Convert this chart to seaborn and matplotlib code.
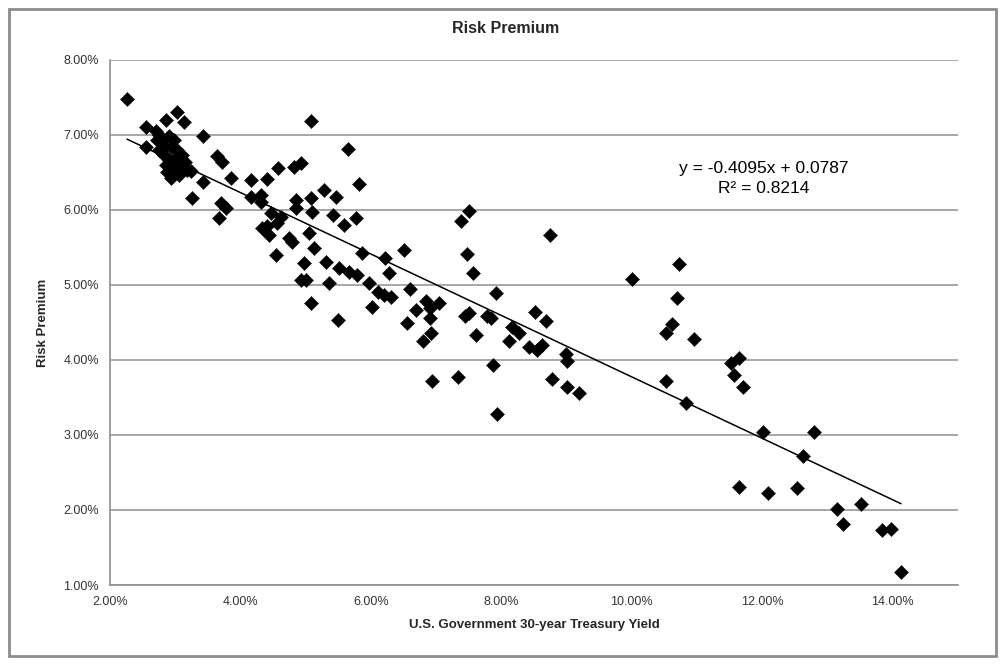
"""Risk premium vs 30-year Treasury yield, Excel-style scatter with linear trend."""

import matplotlib
matplotlib.use("Agg")
import matplotlib.pyplot as plt
from matplotlib.ticker import FuncFormatter, MultipleLocator
from matplotlib.patches import Rectangle
import numpy as np
import pandas as pd
import seaborn as sns

# Data (percent)
treasury_yield = [
    2.26, 2.55, 2.86, 3.03, 3.13, 2.71, 2.75, 2.90, 3.43, 2.55,
    2.80, 2.94, 2.83, 2.90, 3.01, 3.10, 2.86, 2.98, 3.09, 2.94,
    3.06, 3.24, 3.43, 3.26, 3.64, 3.72, 3.86, 4.16, 4.41, 4.58,
    4.82, 4.93, 5.08, 5.65, 5.82, 3.70, 3.78, 3.67, 4.16, 4.32,
    4.32, 4.85, 4.85, 5.08, 5.28, 5.47, 5.10, 5.42, 4.47, 4.62,
    4.56, 4.41, 4.33, 4.44, 4.75, 4.79, 5.05, 5.13, 4.55, 4.98,
    5.31, 5.51, 5.67, 4.93, 5.01, 5.36, 5.08, 5.50, 5.59, 5.77,
    5.87, 6.22, 6.28, 5.79, 5.97, 6.11, 6.20, 6.31, 6.02, 6.51,
    6.60, 6.69, 6.85, 7.05, 6.91, 6.56, 6.91, 6.92, 6.80, 7.51,
    7.38, 7.48, 7.57, 8.75, 7.92, 7.44, 7.51, 7.78, 7.84, 7.61,
    8.17, 8.12, 8.27, 8.52, 8.69, 8.43, 8.55, 8.63, 8.99, 9.01,
    7.87, 6.94, 7.34, 8.78, 9.01, 9.19, 7.94, 10.01, 10.73, 10.70,
    10.62, 10.53, 10.96, 10.53, 10.83, 11.52, 11.65, 11.57, 11.71, 12.02,
    12.80, 12.63, 11.65, 12.09, 12.54, 13.15, 13.24, 13.52, 13.84, 13.98,
    14.13, 2.72, 2.83, 3.03, 3.15, 2.75, 2.98, 3.18, 2.87,
]
risk_premium = [
    7.48, 7.11, 7.20, 7.31, 7.17, 7.05, 7.00, 6.99, 6.99, 6.84,
    6.92, 6.84, 6.73, 6.67, 6.71, 6.73, 6.60, 6.56, 6.57, 6.43,
    6.47, 6.52, 6.37, 6.16, 6.72, 6.64, 6.43, 6.40, 6.41, 6.56,
    6.57, 6.63, 7.19, 6.81, 6.35, 6.09, 6.03, 5.89, 6.17, 6.20,
    6.11, 6.13, 6.03, 6.16, 6.27, 6.17, 5.97, 5.93, 5.96, 5.91,
    5.83, 5.79, 5.76, 5.67, 5.63, 5.57, 5.69, 5.49, 5.40, 5.29,
    5.31, 5.23, 5.17, 5.07, 5.07, 5.03, 4.76, 4.53, 5.80, 5.89,
    5.43, 5.36, 5.16, 5.13, 5.03, 4.91, 4.87, 4.84, 4.71, 5.47,
    4.95, 4.67, 4.79, 4.76, 4.69, 4.49, 4.56, 4.36, 4.25, 5.99,
    5.85, 5.41, 5.16, 5.67, 4.89, 4.59, 4.63, 4.59, 4.56, 4.33,
    4.44, 4.25, 4.36, 4.64, 4.52, 4.17, 4.13, 4.20, 4.08, 3.99,
    3.93, 3.72, 3.77, 3.75, 3.64, 3.56, 3.28, 5.08, 5.28, 4.83,
    4.48, 4.36, 4.28, 3.72, 3.43, 3.96, 4.03, 3.80, 3.64, 3.04,
    3.04, 2.72, 2.31, 2.23, 2.29, 2.01, 1.81, 2.08, 1.73, 1.75,
    1.17, 6.93, 6.84, 6.80, 6.64, 6.80, 6.93, 6.53, 6.51,
]

# Excel trendline: y = -0.4095x + 0.0787 (fractions), R^2 = 0.8214
trend_slope = -0.4095
trend_intercept = 0.0787
trend_label = "y = -0.4095x + 0.0787\nR² = 0.8214"

df = pd.DataFrame({"yield": treasury_yield, "premium": risk_premium})

sns.set_style("white")
plt.rcParams["font.family"] = ["Liberation Sans", "DejaVu Sans"]

fig = plt.figure(figsize=(10.05, 6.65), dpi=100)
ax = fig.add_axes([0.1095, 0.1203, 0.8435, 0.7895])

# light outer frame like the Excel chart area
fig.patches.append(Rectangle((0.009, 0.014), 0.982, 0.973, transform=fig.transFigure,
                             fill=False, edgecolor="#8c8c8c", linewidth=2))

ax.yaxis.grid(True, color="#8f8f8f", linewidth=1.1)
ax.set_axisbelow(True)

sns.scatterplot(data=df, x="yield", y="premium", marker="D", s=52, color="black",
                edgecolor="black", linewidth=0.3, ax=ax, zorder=3)

x_line = np.array([df["yield"].min(), df["yield"].max()])
y_line = (trend_slope * x_line / 100 + trend_intercept) * 100
ax.plot(x_line, y_line, color="black", linewidth=1.1, zorder=4)

ax.text(12.03, 6.42, trend_label, ha="center", va="center", fontsize=12.5,
        linespacing=1.45, color="black")

ax.set_xlim(2, 15)
ax.set_ylim(1, 8)
ax.xaxis.set_major_locator(MultipleLocator(2))
ax.yaxis.set_major_locator(MultipleLocator(1))
pct = FuncFormatter(lambda v, _: f"{v:.2f}%")
ax.xaxis.set_major_formatter(pct)
ax.yaxis.set_major_formatter(pct)

for side in ("top", "right"):
    ax.spines[side].set_visible(False)
for side in ("left", "bottom"):
    ax.spines[side].set_color("#8f8f8f")
    ax.spines[side].set_linewidth(1.2)
ax.tick_params(axis="both", which="major", direction="out", length=5, width=1,
               color="#8f8f8f", labelsize=9, labelcolor="#333333", pad=3)

fig.suptitle("Risk Premium", x=0.503, y=0.968, fontsize=11.5, fontweight="bold")
ax.set_xlabel("U.S. Government 30-year Treasury Yield", fontsize=9.5, fontweight="bold", labelpad=8)
ax.set_ylabel("Risk Premium", fontsize=9.5, fontweight="bold", labelpad=10)

fig.savefig("out.png", dpi=100, facecolor="white")
plt.close(fig)
